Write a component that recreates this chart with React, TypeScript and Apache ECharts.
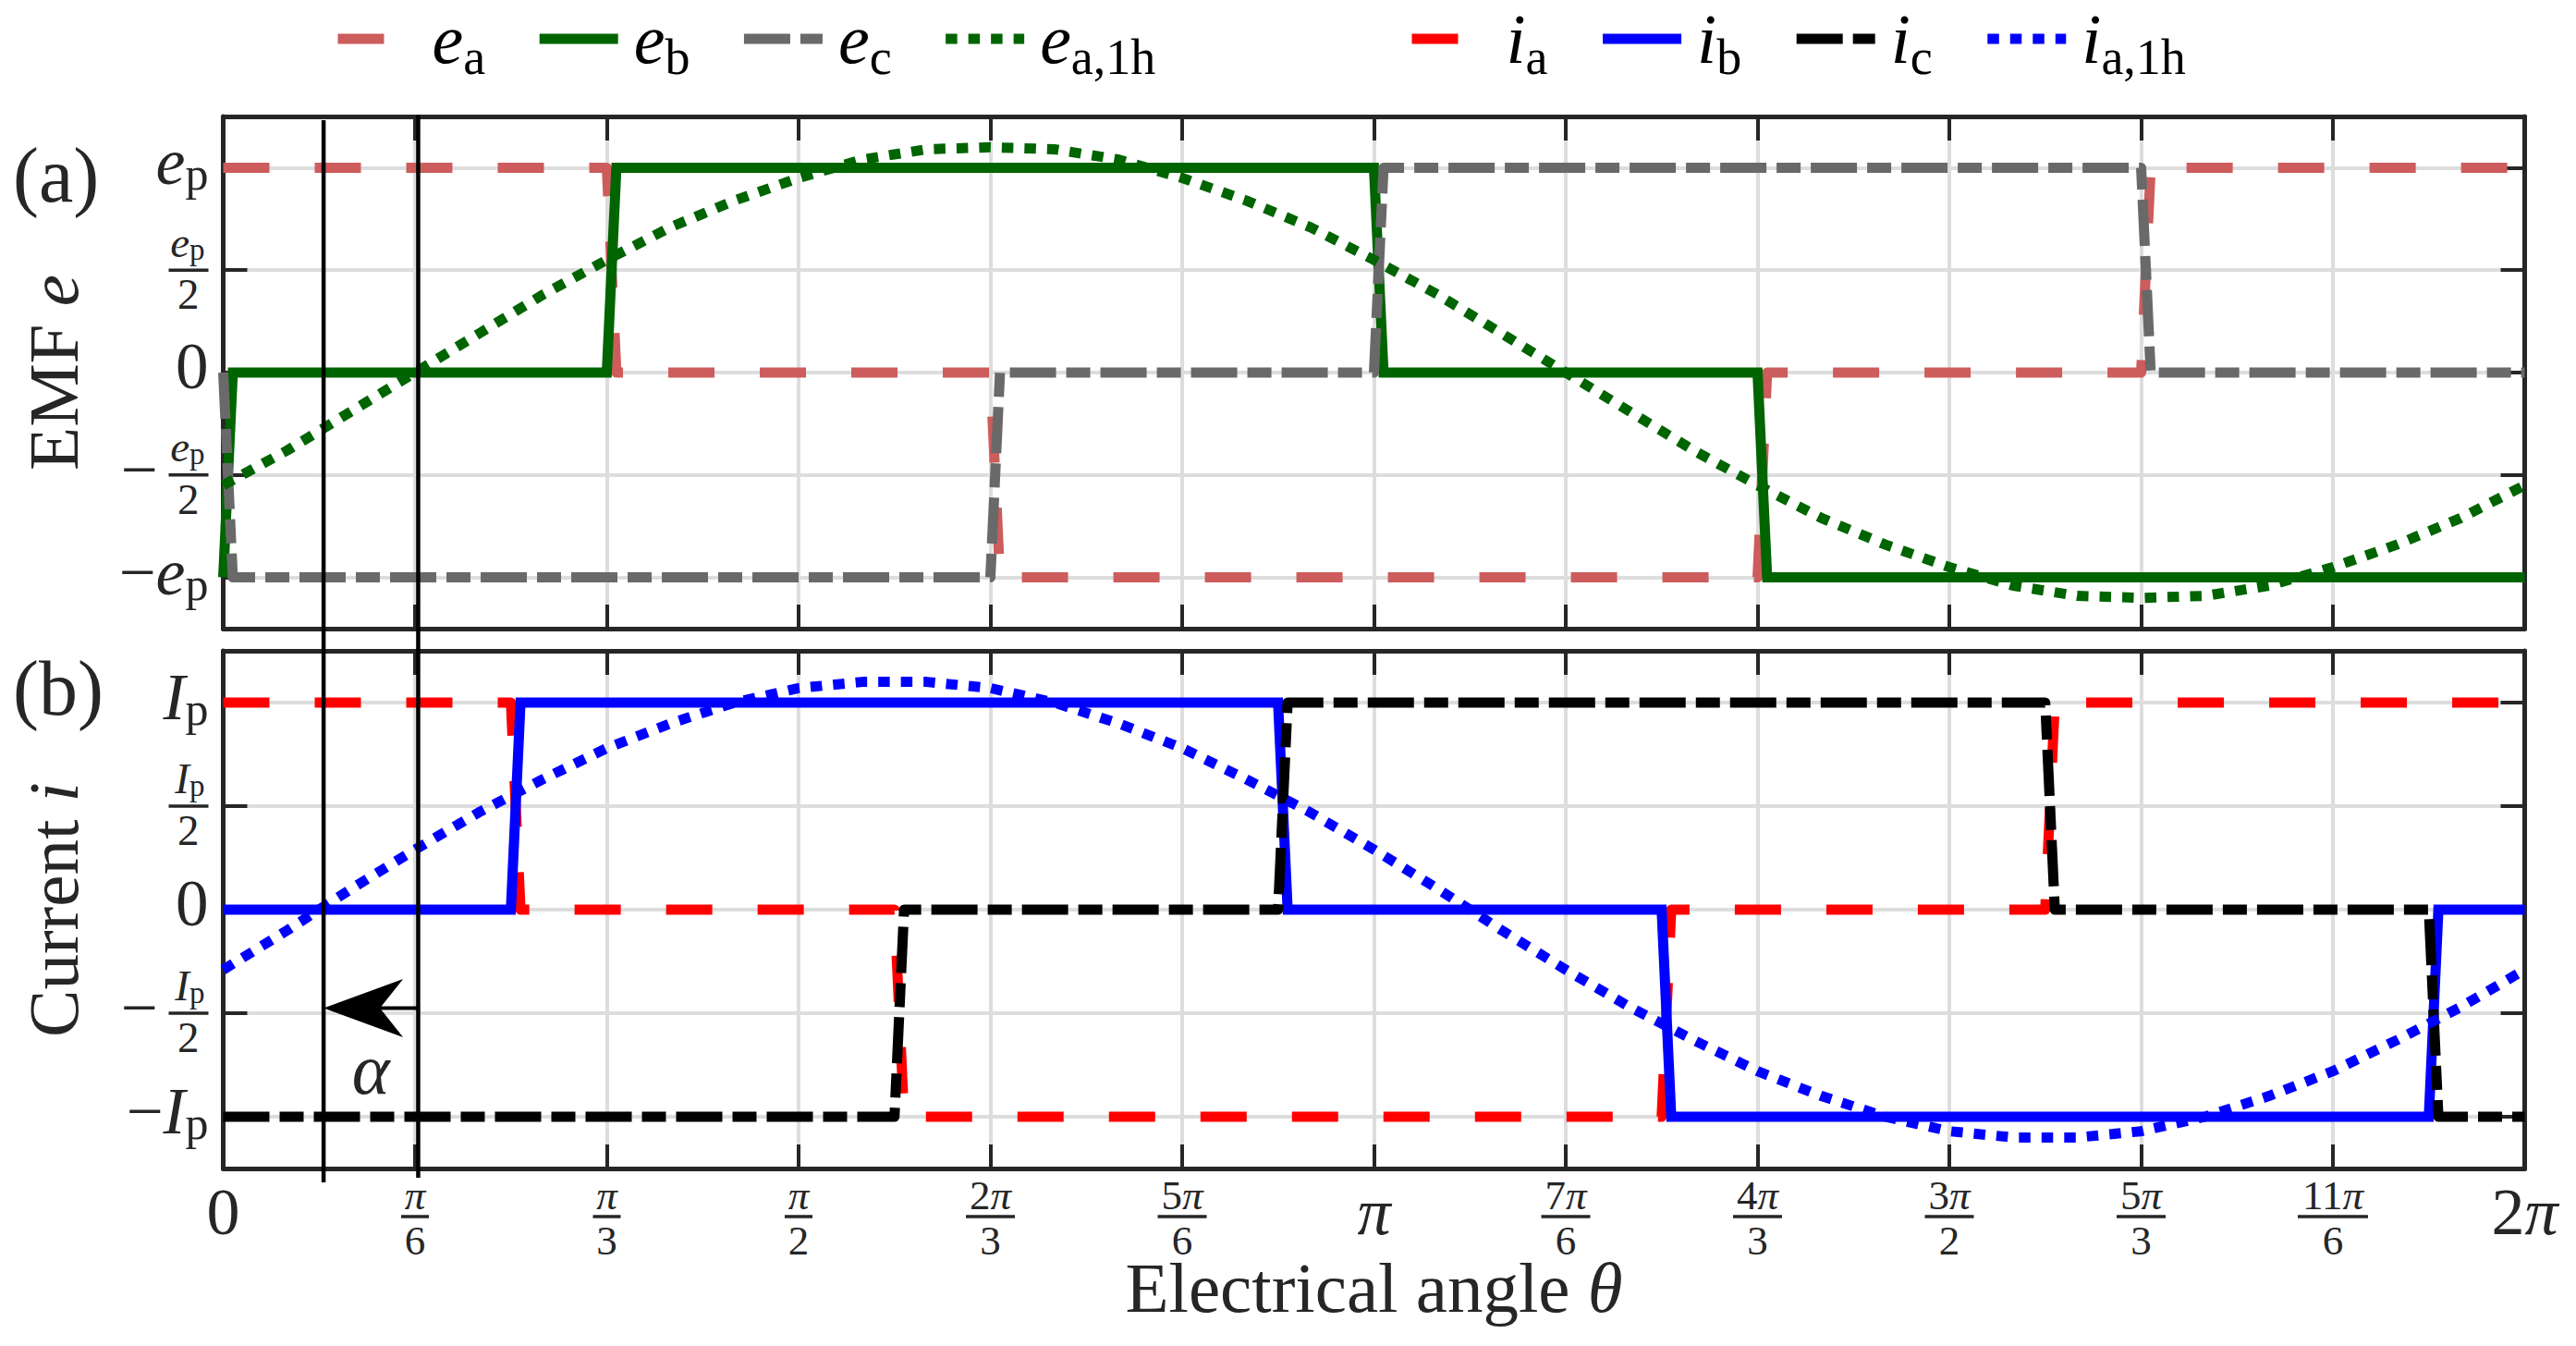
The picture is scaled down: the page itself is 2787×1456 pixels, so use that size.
import React, { useEffect, useRef } from "react";
import * as echarts from "echarts";

const W = 2787;
const H = 1456;
const FONT = "Liberation Serif";
const INK = "#262626";
const GRIDC = "#dddddd";

// ---------- axes ----------
const xMin = 0;
const xMax = 360; // electrical angle in degrees
const xStep = 30;
const xTickLabels = ["0", "π/6", "π/3", "π/2", "2π/3", "5π/6", "π", "7π/6", "4π/3", "3π/2", "5π/3", "11π/6", "2π"];
const yMin = -1.25;
const yMax = 1.25;
const yTickValues = [-1, -0.5, 0, 0.5, 1];
const yTickLabelsEmf = ["−e_p", "−e_p/2", "0", "e_p/2", "e_p"];
const yTickLabelsCur = ["−I_p", "−I_p/2", "0", "I_p/2", "I_p"];

// ---------- names ----------
const emfNames = ["e_a", "e_b", "e_c", "e_a,1h"];
const curNames = ["i_a", "i_b", "i_c", "i_a,1h"];

// ---------- panel (a): EMF, [angle deg, value / e_p] ----------
const eA = [[0, 1], [60, 1], [61.5, 0], [120, 0], [121.5, -1], [240, -1], [241.5, 0], [300, 0], [301.5, 1], [360, 1]];
const eB = [[0, -1], [1.5, 0], [60, 0], [61.5, 1], [180, 1], [181.5, 0], [240, 0], [241.5, -1], [360, -1]];
const eC = [[0, 0], [1.5, -1], [120, -1], [121.5, 0], [180, 0], [181.5, 1], [300, 1], [301.5, 0], [360, 0]];
const harmonicAngles = [0, 10, 20, 30, 40, 50, 60, 70, 80, 90, 100, 110, 120, 130, 140, 150, 160, 170, 180, 190, 200, 210, 220, 230, 240, 250, 260, 270, 280, 290, 300, 310, 320, 330, 340, 350, 360];
const eA1h = [-0.55, -0.38, -0.19, 0, 0.19, 0.38, 0.55, 0.71, 0.84, 0.95, 1.04, 1.09, 1.1, 1.09, 1.04, 0.95, 0.84, 0.71, 0.55, 0.38, 0.19, 0, -0.19, -0.38, -0.55, -0.71, -0.84, -0.95, -1.04, -1.09, -1.1, -1.09, -1.04, -0.95, -0.84, -0.71, -0.55];

// ---------- panel (b): current, [angle deg, value / I_p] ----------
const iA = [[0, 1], [45, 1], [46.5, 0], [105, 0], [106.5, -1], [225, -1], [226.5, 0], [285, 0], [286.5, 1], [360, 1]];
const iB = [[0, 0], [45, 0], [46.5, 1], [165, 1], [166.5, 0], [225, 0], [226.5, -1], [345, -1], [346.5, 0], [360, 0]];
const iC = [[0, -1], [105, -1], [106.5, 0], [165, 0], [166.5, 1], [285, 1], [286.5, 0], [345, 0], [346.5, -1], [360, -1]];
const iA1h = [-0.29, -0.1, 0.1, 0.29, 0.47, 0.63, 0.78, 0.9, 1.0, 1.07, 1.1, 1.1, 1.07, 1.0, 0.9, 0.78, 0.63, 0.47, 0.29, 0.1, -0.1, -0.29, -0.47, -0.63, -0.78, -0.9, -1.0, -1.07, -1.1, -1.1, -1.07, -1.0, -0.9, -0.78, -0.63, -0.47, -0.29];

// ---------- alpha annotation ----------
const alphaLines = [15.7, 30.5]; // degrees
const arrowLevel = -0.475; // in I_p

// ---------- styles ----------
const dashA = [50, 49];
const dashDot = [50, 11, 26, 11];
const dots = [12.5, 12];

function pairs(xs: number[], ys: number[]) {
  return xs.map((x, i) => [x, ys[i]]);
}

function legendFmt(name: string) {
  const [sym, sub] = name.split("_");
  return `{sp| }{m|${sym}}{s|${sub}}`;
}

function xLabelRich(lbl: string) {
  if (lbl.includes("/")) {
    const [num, den] = lbl.split("/");
    const digits = num.replace("π", "");
    const numStr = (digits ? `{nr|${digits}}` : "") + "{ni|π}";
    const barKey = digits.length === 0 ? "b1" : digits.length === 1 ? "b2" : "b3";
    return `${numStr}\n{${barKey}| }\n{dr|${den}}`;
  }
  if (!lbl.includes("π")) return `{xr|${lbl}}`;
  const digits = lbl.replace("π", "");
  return (digits ? `{xr|${digits}}` : "") + "{xi|π}";
}

function yLabelRich(lbl: string) {
  const neg = lbl.startsWith("−");
  let body = neg ? lbl.slice(1) : lbl;
  const frac = body.endsWith("/2");
  if (frac) body = body.slice(0, -2);
  if (body === "0") return "{tr|0}";
  const [sym, sub] = body.split("_");
  if (!frac) return (neg ? "{tm|−}" : "") + `{ti|${sym}}{ts|${sub}}`;
  return `{fi|${sym}}{fs|${sub}}{fq| }\n` + (neg ? "{fm|−}{fg| }" : "") + "{fb| }\n{fd|2}{fp| }";
}

const yRich = {
  tr: { fontFamily: FONT, fontSize: 71, color: INK, align: "right", padding: [0, 0, 14, 0] },
  tm: { fontFamily: FONT, fontSize: 71, color: INK, align: "right", padding: [0, 0, 12, 0] },
  ti: { fontFamily: FONT, fontStyle: "italic", fontSize: 72, color: INK, align: "right", padding: [0, 0, 12, 0] },
  ts: { fontFamily: FONT, fontSize: 50, color: INK, align: "right", padding: [14, 0, 0, 0], lineHeight: 10 },
  fi: { fontFamily: FONT, fontStyle: "italic", fontSize: 47, color: INK, align: "right", padding: [0, 0, 9, 0], lineHeight: 46 },
  fs: { fontFamily: FONT, fontSize: 33, color: INK, align: "right", padding: [7, 0, 0, 0], lineHeight: 10 },
  fq: { width: 4, align: "right", lineHeight: 4 },
  fm: { fontFamily: FONT, fontSize: 71, color: INK, align: "right", padding: [0, 0, 12, 0], lineHeight: 6 },
  fg: { width: 12, align: "right", lineHeight: 4 },
  fb: { width: 43, height: 3.5, lineHeight: 6, backgroundColor: INK, align: "right" },
  fd: { fontFamily: FONT, fontSize: 47, color: INK, align: "right", lineHeight: 46 },
  fp: { width: 10, align: "right", lineHeight: 4 },
};

const xRich = {
  xr: { fontFamily: FONT, fontSize: 72, color: INK, padding: [0, 0, 10, 0] },
  xi: { fontFamily: FONT, fontStyle: "italic", fontSize: 72, color: INK, padding: [0, 0, 10, 0] },
  nr: { fontFamily: FONT, fontSize: 45, color: INK, lineHeight: 46, padding: [6, 0, 0, 0] },
  ni: { fontFamily: FONT, fontStyle: "italic", fontSize: 45, color: INK, lineHeight: 46, padding: [6, 0, 0, 0] },
  dr: { fontFamily: FONT, fontSize: 45, color: INK, lineHeight: 46 },
  b1: { width: 30, height: 3.5, lineHeight: 6, backgroundColor: INK },
  b2: { width: 53, height: 3.5, lineHeight: 6, backgroundColor: INK },
  b3: { width: 76, height: 3.5, lineHeight: 6, backgroundColor: INK },
};

const legendRich = {
  sp: { width: 12 },
  m: { fontFamily: FONT, fontStyle: "italic", fontSize: 76, color: "#000" },
  s: { fontFamily: FONT, fontSize: 54, color: "#000", padding: [40, 0, 0, 0], lineHeight: 10 },
};

const nameRich = {
  r: { fontFamily: FONT, fontSize: 77, color: INK },
  i: { fontFamily: FONT, fontStyle: "italic", fontSize: 77, color: INK },
};

const gridsPx = [
  { left: 241.5, top: 126, width: 2490, height: 554 },
  { left: 241.5, top: 704, width: 2490, height: 560 },
];

function tickAxisX(gridIndex: number, position: string, labels: boolean, name?: string) {
  return {
    type: "value",
    gridIndex,
    position,
    min: xMin,
    max: xMax,
    interval: xStep,
    z: 1,
    axisLine: { show: true, onZero: false, lineStyle: { color: INK, width: 5 } },
    axisTick: { show: true, inside: true, length: 26, lineStyle: { color: INK, width: 4 } },
    axisLabel: labels
      ? {
          show: true,
          margin: 52,
          verticalAlign: "middle",
          formatter: (v: number) => {
            const lbl = xTickLabels[Math.round((v - xMin) / xStep)];
            return lbl !== undefined ? xLabelRich(lbl) : "";
          },
          rich: xRich,
        }
      : { show: false },
    splitLine: { show: false },
    name: name ? "{r|Electrical angle }{i|θ}" : undefined,
    nameLocation: "middle",
    nameGap: 90,
    nameMoveOverlap: false,
    nameTextStyle: { rich: nameRich, color: INK },
  };
}

function gridAxisX(gridIndex: number) {
  return {
    type: "value",
    gridIndex,
    position: "bottom",
    min: xMin,
    max: xMax,
    interval: xStep,
    z: 0,
    axisLine: { show: false, onZero: false },
    axisTick: { show: false },
    axisLabel: { show: false },
    splitLine: { show: true, lineStyle: { color: GRIDC, width: 4 } },
  };
}

function tickAxisY(gridIndex: number, position: string, labels: string[] | null, name?: string) {
  return {
    type: "value",
    gridIndex,
    position,
    min: yMin,
    max: yMax,
    z: 1,
    axisLine: { show: true, onZero: false, lineStyle: { color: INK, width: 5 } },
    axisTick: { show: true, inside: true, length: 26, customValues: yTickValues, lineStyle: { color: INK, width: 4 } },
    axisLabel: labels
      ? {
          show: true,
          margin: 16,
          customValues: yTickValues,
          formatter: (v: number) => {
            const k = yTickValues.findIndex((t) => Math.abs(t - v) < 1e-9);
            return k < 0 ? "" : yLabelRich(labels[k]);
          },
          rich: yRich,
        }
      : { show: false },
    splitLine: { show: false },
    name,
    nameLocation: "middle",
    nameRotate: 90,
    nameGap: 145,
    nameMoveOverlap: false,
    nameTextStyle: { rich: nameRich, color: INK },
  };
}

function gridAxisY(gridIndex: number) {
  return {
    type: "value",
    gridIndex,
    position: "left",
    min: yMin,
    max: yMax,
    z: 0,
    axisLine: { show: false, onZero: false },
    axisTick: { show: false, customValues: yTickValues },
    axisLabel: { show: false },
    splitLine: { show: true, lineStyle: { color: GRIDC, width: 4 } },
  };
}

function lineSeries(name: string, data: number[][], color: string, type: any, axis: number) {
  return {
    type: "line",
    name,
    data,
    xAxisIndex: axis,
    yAxisIndex: axis,
    symbol: "none",
    showSymbol: false,
    smooth: false,
    z: 2,
    itemStyle: { color },
    lineStyle: { color, width: 11, type, cap: "butt", join: type === "solid" ? "miter" : "round" },
  };
}

function buildOption() {
  const legendBase = {
    orient: "horizontal",
    top: -5,
    itemWidth: 85,
    itemHeight: 11,
    padding: 0,
    selectedMode: false,
    itemStyle: { opacity: 0 },
    lineStyle: { width: 11, type: "inherit", color: "inherit", cap: "butt" },
    formatter: legendFmt,
  };
  return {
    animation: false,
    backgroundColor: "#ffffff",
    grid: gridsPx.map((g) => ({ ...g, containLabel: false, outerBoundsMode: "none" })),
    legend: [
      { ...legendBase, left: 360, itemGap: 53, data: emfNames, textStyle: { width: 78, rich: legendRich } },
      { ...legendBase, left: 1522, itemGap: 54, data: curNames, textStyle: { width: 66, rich: legendRich } },
    ],
    xAxis: [
      tickAxisX(0, "bottom", false),
      tickAxisX(0, "top", false),
      tickAxisX(1, "bottom", true, "x"),
      tickAxisX(1, "top", false),
      gridAxisX(0),
      gridAxisX(1),
    ],
    yAxis: [
      tickAxisY(0, "left", yTickLabelsEmf, "{r|EMF }{i|e}"),
      tickAxisY(0, "right", null),
      tickAxisY(1, "left", yTickLabelsCur, "{r|Current }{i|i}"),
      tickAxisY(1, "right", null),
      gridAxisY(0),
      gridAxisY(1),
    ],
    series: [
      lineSeries("e_a", eA, "#cd5c5c", dashA, 0),
      lineSeries("e_b", eB, "#006400", "solid", 0),
      lineSeries("e_c", eC, "#696969", dashDot, 0),
      lineSeries("e_a,1h", pairs(harmonicAngles, eA1h), "#006400", dots, 0),
      lineSeries("i_a", iA, "#ff0000", dashA, 2),
      lineSeries("i_b", iB, "#0000ff", "solid", 2),
      lineSeries("i_c", iC, "#000000", dashDot, 2),
      lineSeries("i_a,1h", pairs(harmonicAngles, iA1h), "#0000ff", dots, 2),
    ],
  };
}

function txt(text: string, x: number, y: number, font: string, align = "center") {
  return {
    type: "text",
    x,
    y,
    z: 100,
    style: {
      text,
      font,
      fill: INK,
      align,
      verticalAlign: "middle",
      textAlign: align,
      textVerticalAlign: "middle",
    },
  };
}

export default function App() {
  const ref = useRef<HTMLDivElement>(null);
  useEffect(() => {
    if (!ref.current) return;
    const chart = echarts.init(ref.current, undefined, { renderer: "svg" });
    chart.setOption(buildOption() as any);

    const x1 = chart.convertToPixel({ xAxisIndex: 0 }, alphaLines[0]) as number;
    const x2 = chart.convertToPixel({ xAxisIndex: 0 }, alphaLines[1]) as number;
    const yTop = chart.convertToPixel({ yAxisIndex: 0 }, yMax) as number;
    const yBot = chart.convertToPixel({ yAxisIndex: 2 }, yMin) as number;
    const yArr = chart.convertToPixel({ yAxisIndex: 2 }, arrowLevel) as number;

    chart.setOption({
      graphic: {
        elements: [
          { type: "line", z: 100, shape: { x1, y1: yTop + 4, x2: x1, y2: yBot + 15 }, style: { stroke: "#000", lineWidth: 4.5 } },
          { type: "line", z: 100, shape: { x1: x2, y1: yTop - 2, x2, y2: yBot + 10 }, style: { stroke: "#000", lineWidth: 4.5 } },
          { type: "line", z: 100, shape: { x1: x2, y1: yArr, x2: x1 + 60, y2: yArr }, style: { stroke: "#000", lineWidth: 4 } },
          {
            type: "polygon",
            z: 101,
            shape: { points: [[x1, yArr], [x1 + 86, yArr - 31.5], [x1 + 61, yArr], [x1 + 86, yArr + 31.5]] },
            style: { fill: "#000" },
          },
          txt("α", (x1 + x2) / 2, yArr + 66, `italic 78px "${FONT}"`),
          txt("(a)", 14, 189, `84px "${FONT}"`, "left"),
          txt("(b)", 14, 744, `84px "${FONT}"`, "left"),
        ],
      },
    } as any);

    return () => chart.dispose();
  }, []);
  return <div ref={ref} style={{ position: "absolute", left: 0, top: 0, width: W, height: H, background: "#fff" }} />;
}
